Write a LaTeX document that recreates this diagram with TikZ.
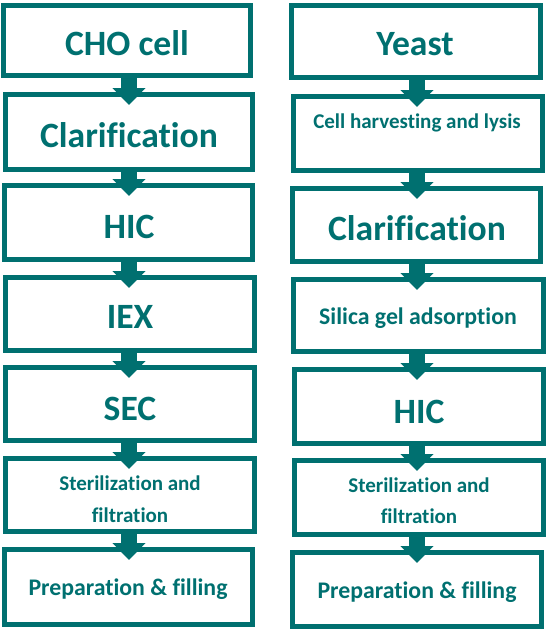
\documentclass[tikz,border=0pt]{standalone}
\usepackage{fontspec}
\setmainfont{Carlito}[Ligatures={NoCommon}]
\usetikzlibrary{arrows.meta,calc}
\definecolor{teal1}{RGB}{0,112,112}
\begin{document}
\begin{tikzpicture}[x=1pt,y=-1pt,
  stepbox/.style={draw=teal1,line width=5pt,fill=none,inner sep=0pt,rectangle},
  big/.style={text=teal1,font=\bfseries\fontsize{35.6}{40}\selectfont,anchor=base,inner sep=0pt},
  small/.style={text=teal1,font=\bfseries\fontsize{21}{31}\selectfont,anchor=base,inner sep=0pt},
  mid/.style={text=teal1,font=\bfseries\fontsize{23.8}{31}\selectfont,anchor=base,inner sep=0pt},
  flow/.style={draw=teal1,line width=16pt,-{Triangle[width=32pt,length=17pt]},shorten <=-3pt}
]
\useasboundingbox (0,0) rectangle (546,630);
% box macro: outer coords
\newcommand{\mybox}[5]{\node[stepbox,minimum width={#4-#2-5},minimum height={#5-#3-5}] (#1) at ({(#2+#4)/2},{(#3+#5)/2}) {};}
% left column
\mybox{L1}{1}{3}{253}{78}
\mybox{L2}{3}{92}{255}{172}
\mybox{L3}{2}{183}{255}{262}
\mybox{L4}{3}{275}{257}{353}
\mybox{L5}{3}{365}{257}{443}
\mybox{L6}{3}{456}{257}{534}
\mybox{L7}{2}{547}{255}{627}
% right column
\mybox{R1}{289}{3}{543}{80}
\mybox{R2}{291}{94}{545}{173}
\mybox{R3}{290}{186}{543}{264}
\mybox{R4}{291}{277}{546}{354}
\mybox{R5}{292}{367}{546}{446}
\mybox{R6}{292}{458}{546}{537}
\mybox{R7}{290}{550}{544}{629}
% arrows
\foreach \a/\b in {L1/L2,L2/L3,L3/L4,L4/L5,L5/L6,L6/L7}{
  \draw[flow] (129,0 |- \a.south) -- ($(129,0 |- \b.north)+(0,13)$);
}
\foreach \a/\b in {R1/R2,R2/R3,R3/R4,R4/R5,R5/R6,R6/R7}{
  \draw[flow] (417,0 |- \a.south) -- ($(417,0 |- \b.north)+(0,13)$);
}
% texts left
\node[big] (tL1) at (127,55) {CHO cell};
\node[big] (tL2) at (129,147) {Clarification};
\node[big] (tL3) at (129,238) {HIC};
\node[big] (tL4) at (130,328) {IEX};
\node[big] (tL5) at (130,420) {SEC};
\node[small] (tL6a) at (130,490) {Sterilization and};
\node[small] (tL6b) at (130,522) {filtration};
\node[mid] (tL7) at (128,595) {Preparation \& filling};
% texts right
\node[big] (tR1) at (415,55) {Yeast};
\node[small] (tR2) at (417,128) {Cell harvesting and lysis};
\node[big] (tR3) at (417,240) {Clarification};
\node[mid] (tR4) at (418,324) {Silica gel adsorption};
\node[big] (tR5) at (419,423) {HIC};
\node[small] (tR6a) at (419,492) {Sterilization and};
\node[small] (tR6b) at (419,523) {filtration};
\node[mid] (tR7) at (417,598) {Preparation \& filling};
\end{tikzpicture}
\end{document}
